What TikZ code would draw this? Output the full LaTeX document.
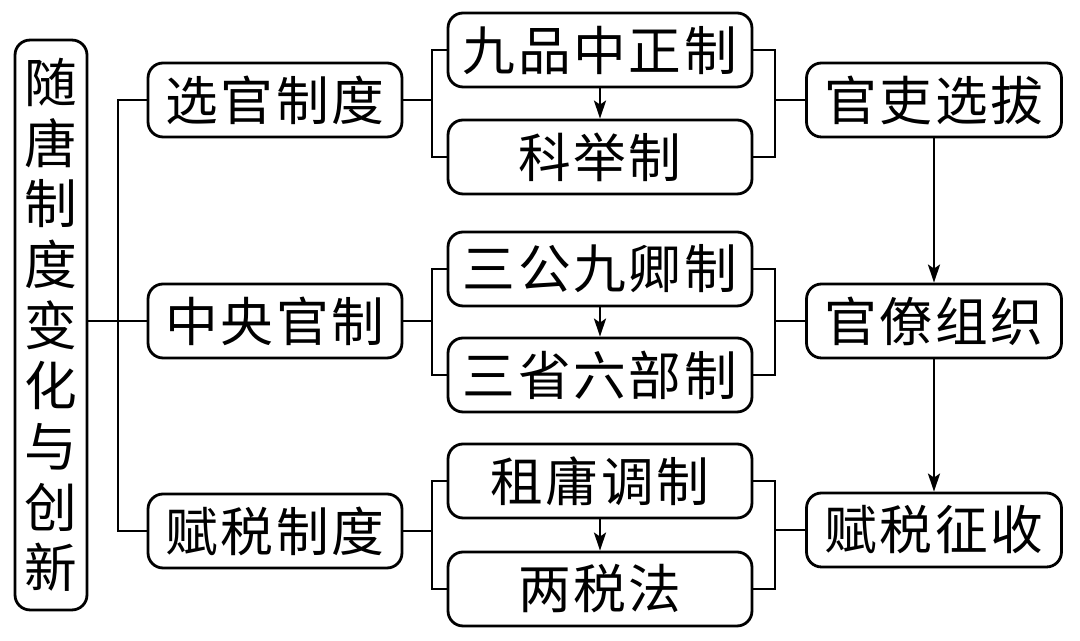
\documentclass[tikz,border=0pt]{standalone}
\usepackage{fontspec}
\newfontfamily\cjk[LetterSpace=5]{Noto Sans CJK SC}
\usetikzlibrary{arrows.meta}
\tikzset{
  box/.style={draw, rounded corners=0.3cm, inner sep=0pt, minimum height=1.48cm,
    font=\cjk\fontsize{30}{34.5}\selectfont},
  mid/.style={box, minimum width=5.08cm},
  sub/.style={box, minimum width=6.08cm},
  res/.style={box, minimum width=5.1cm},
  flow/.style={-{Stealth[length=0.36cm, width=0.24cm, inset=0.08cm]}}
}
\begin{document}
\begin{tikzpicture}[x=0.02cm, y=-0.02cm, line width=1.6pt]
      \useasboundingbox (0,0) rectangle (1080,641);
      \draw
        (51,325) node[box, minimum width=1.44cm, minimum height=11.4cm, align=center] (root)
          {随\\唐\\制\\度\\变\\化\\与\\创\\新}
        (275,100) node[mid] (xg){选官制度}
        (275,321) node[mid] (zy){中央官制}
        (275,531) node[mid] (fs){赋税制度}
        (600,50) node[sub] (jp){九品中正制}
        (600,157) node[sub] (kj){科举制}
        (600,269) node[sub] (sg){三公九卿制}
        (600,375) node[sub] (ss){三省六部制}
        (600,481) node[sub] (zyd){租庸调制}
        (600,589) node[sub] (lsf){两税法}
        (934,100) node[res] (gl){官吏选拔}
        (934,321) node[res] (gz){官僚组织}
        (934,530) node[res] (fz){赋税征收};
      \coordinate (t) at (118,321);
      \coordinate (a1) at (432,100);
      \coordinate (a2) at (432,321);
      \coordinate (a3) at (432,531);
      \coordinate (b1) at (775,100);
      \coordinate (b2) at (775,321);
      \coordinate (b3) at (775,530);
      \begin{scope}[-]
        \draw (xg.west) -| (t) |- (fs.west);
        \draw (root.east |- zy.west) -- (zy.west);
        \draw (xg) -- (a1);
        \draw (zy) -- (a2);
        \draw (fs) -- (a3);
        \draw (jp.west) -| (a1) |- (kj.west);
        \draw (sg.west) -| (a2) |- (ss.west);
        \draw (zyd.west) -| (a3) |- (lsf.west);
        \draw (jp.east) -| (b1) |- (kj.east);
        \draw (sg.east) -| (b2) |- (ss.east);
        \draw (zyd.east) -| (b3) |- (lsf.east);
        \draw (b1) -- (gl);
        \draw (b2) -- (gz);
        \draw (b3) -- (fz);
      \end{scope}
      \begin{scope}[flow]
        \draw (jp) -- (kj);
        \draw (sg) -- (ss);
        \draw (zyd) -- (lsf);
        \draw (gl) -- (gz);
        \draw (gz) -- (fz);
      \end{scope}
    \end{tikzpicture}
\end{document}
